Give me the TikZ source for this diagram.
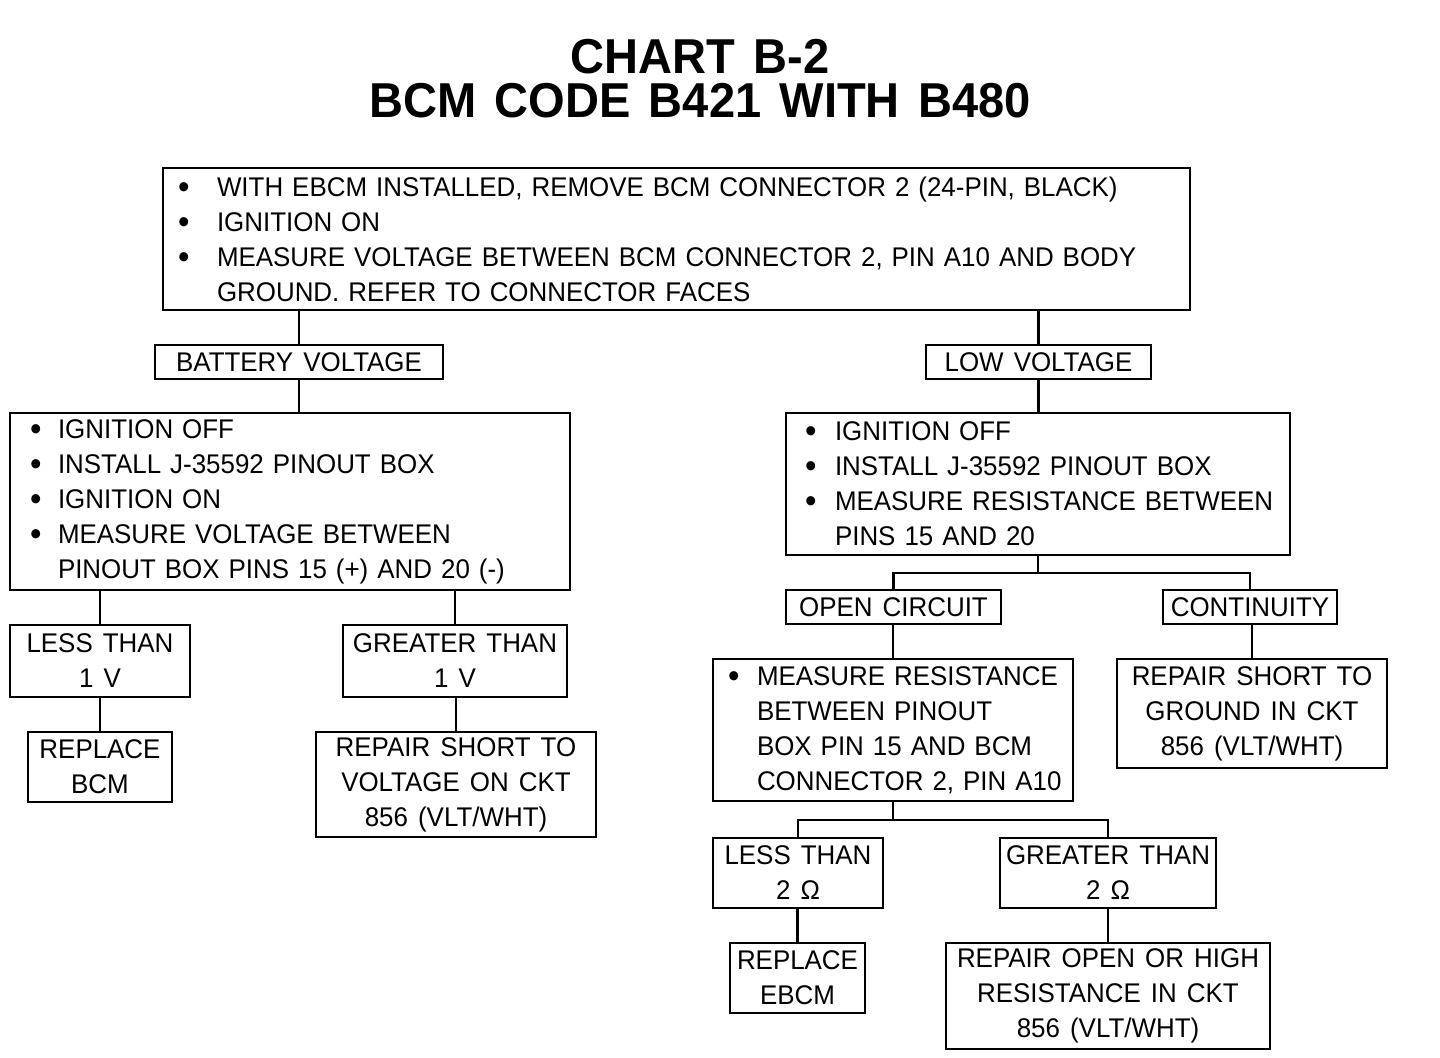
\documentclass[tikz,border=0pt]{standalone}
\usepackage{fontspec}
\setmainfont{Liberation Sans}[FakeStretch=0.96, WordSpace=1.4]
\usetikzlibrary{positioning, calc}

\tikzset{
  box/.style={draw, line width=1.4pt, inner sep=0pt,
    font=\fontsize{13.5}{17.5}\selectfont},
  bbox/.style={box, align=left, minimum height=#1},
  cbox/.style 2 args={box, align=center, minimum width=#1, minimum height=#2},
  link/.style={line width=1.4pt},
  ttl/.style={inner sep=0pt, align=center, font=\fontsize{24.5}{22}\selectfont\bfseries},
}
%% one bulleted line, and one hanging line, kept unbroken
\newcommand{\bitem}[2][16pt]{\mbox{\makebox[#1][l]{\raisebox{-1pt}{\fontsize{17}{17}\selectfont\textbullet}}#2}}
\newcommand{\hang}[2][16pt]{\mbox{\hspace*{#1}#2}}

\begin{document}
\begin{tikzpicture}[x=0.5pt, y=-0.5pt]
  \useasboundingbox (0,0) rectangle (1440,1058);

  %% Title
  \node[ttl] (title) at (700,79) {CHART B-2\\BCM CODE B421 WITH B480};

  %% Bullet boxes
  \node[bbox=71pt, inner xsep=7.6pt, text width=498.3pt] (start) at (676.5,239)
    {\bitem[19.4pt]{WITH EBCM INSTALLED, REMOVE BCM CONNECTOR 2 (24-PIN, BLACK)}\\
     \bitem[19.4pt]{IGNITION ON}\\
     \bitem[19.4pt]{MEASURE VOLTAGE BETWEEN BCM CONNECTOR 2, PIN A10 AND BODY}\\
     \hang[19.4pt]{GROUND. REFER TO CONNECTOR FACES}};
  \node[bbox=88.5pt, inner xsep=10.1pt, text width=259.8pt] (battchk) at (290,501.5)
    {\bitem[13.9pt]{IGNITION OFF}\\
     \bitem[13.9pt]{INSTALL J-35592 PINOUT BOX}\\
     \bitem[13.9pt]{IGNITION ON}\\
     \bitem[13.9pt]{MEASURE VOLTAGE BETWEEN}\\
     \hang[13.9pt]{PINOUT BOX PINS 15 (+) AND 20 (-)}};
  \node[bbox=71pt, inner xsep=9.6pt, text width=232.8pt] (lowchk) at (1038,484)
    {\bitem[14.9pt]{IGNITION OFF}\\
     \bitem[14.9pt]{INSTALL J-35592 PINOUT BOX}\\
     \bitem[14.9pt]{MEASURE RESISTANCE BETWEEN}\\
     \hang[14.9pt]{PINS 15 AND 20}};
  \node[bbox=71pt, inner xsep=7.6pt, text width=164.8pt] (openchk) at (893,730)
    {\bitem[14.4pt]{MEASURE RESISTANCE}\\
     \hang[14.4pt]{BETWEEN PINOUT}\\
     \hang[14.4pt]{BOX PIN 15 AND BCM}\\
     \hang[14.4pt]{CONNECTOR 2, PIN A10}};

  %% Result boxes
  \node[cbox={144pt}{17pt}] (battv) at (299,362) {BATTERY VOLTAGE};
  \node[cbox={112.5pt}{17pt}] (lowv) at (1038.5,362) {LOW VOLTAGE};
  \node[cbox={90pt}{36pt}] (lessA) at (100,661) {LESS THAN\\1 V};
  \node[cbox={112pt}{36pt}] (moreA) at (455,661) {GREATER THAN\\1 V};
  \node[cbox={72pt}{35pt}] (replbcm) at (100,767) {REPLACE\\BCM};
  \node[cbox={140pt}{52.5pt}] (shortv) at (456,784.5)
    {REPAIR SHORT TO\\VOLTAGE ON CKT\\856 (VLT/WHT)};
  \node[cbox={107.5pt}{17pt}] (opencir) at (893.5,607) {OPEN CIRCUIT};
  \node[cbox={87pt}{17pt}] (contin) at (1250,607) {CONTINUITY};
  \node[cbox={135pt}{54.5pt}] (shortg) at (1252,713.5)
    {REPAIR SHORT TO\\GROUND IN CKT\\856 (VLT/WHT)};
  \node[cbox={85pt}{35pt}] (lessB) at (798,873) {LESS THAN\\2 Ω};
  \node[cbox={108pt}{35pt}] (moreB) at (1108,873) {GREATER THAN\\2 Ω};
  \node[cbox={67.5pt}{35pt}] (replebcm) at (797.5,978) {REPLACE\\EBCM};
  \node[cbox={162pt}{53pt}] (repopen) at (1108,996)
    {REPAIR OPEN OR HIGH\\RESISTANCE IN CKT\\856 (VLT/WHT)};

  %% Connectors
  \draw[link] (battv.north) -- (battv.north |- start.south);
  \draw[link] (lowv.north) -- (lowv.north |- start.south);
  \draw[link] (battv.south) -- (battv.south |- battchk.north);
  \draw[link] (lowv.south) -- (lowv.south |- lowchk.north);
  \draw[link] (lessA.north) -- (lessA.north |- battchk.south);
  \draw[link] (moreA.north) -- (moreA.north |- battchk.south);
  \draw[link] (replbcm.north) -- (replbcm.north |- lessA.south);
  \draw[link] (shortv.north) -- (shortv.north |- moreA.south);

  \coordinate (forkA) at (1038,573);
  \draw[link] (lowchk.south) -- (forkA);
  \draw[link] (opencir.north) |- (forkA) -| (contin.north);
  \draw[link] (openchk.north) -- (openchk.north |- opencir.south);
  \draw[link] (shortg.north) -- (shortg.north |- contin.south);

  \coordinate (forkB) at (893,820);
  \draw[link] (openchk.south) -- (forkB);
  \draw[link] (lessB.north) |- (forkB) -| (moreB.north);
  \draw[link] (replebcm.north) -- (replebcm.north |- lessB.south);
  \draw[link] (repopen.north) -- (repopen.north |- moreB.south);

\end{tikzpicture}
\end{document}
